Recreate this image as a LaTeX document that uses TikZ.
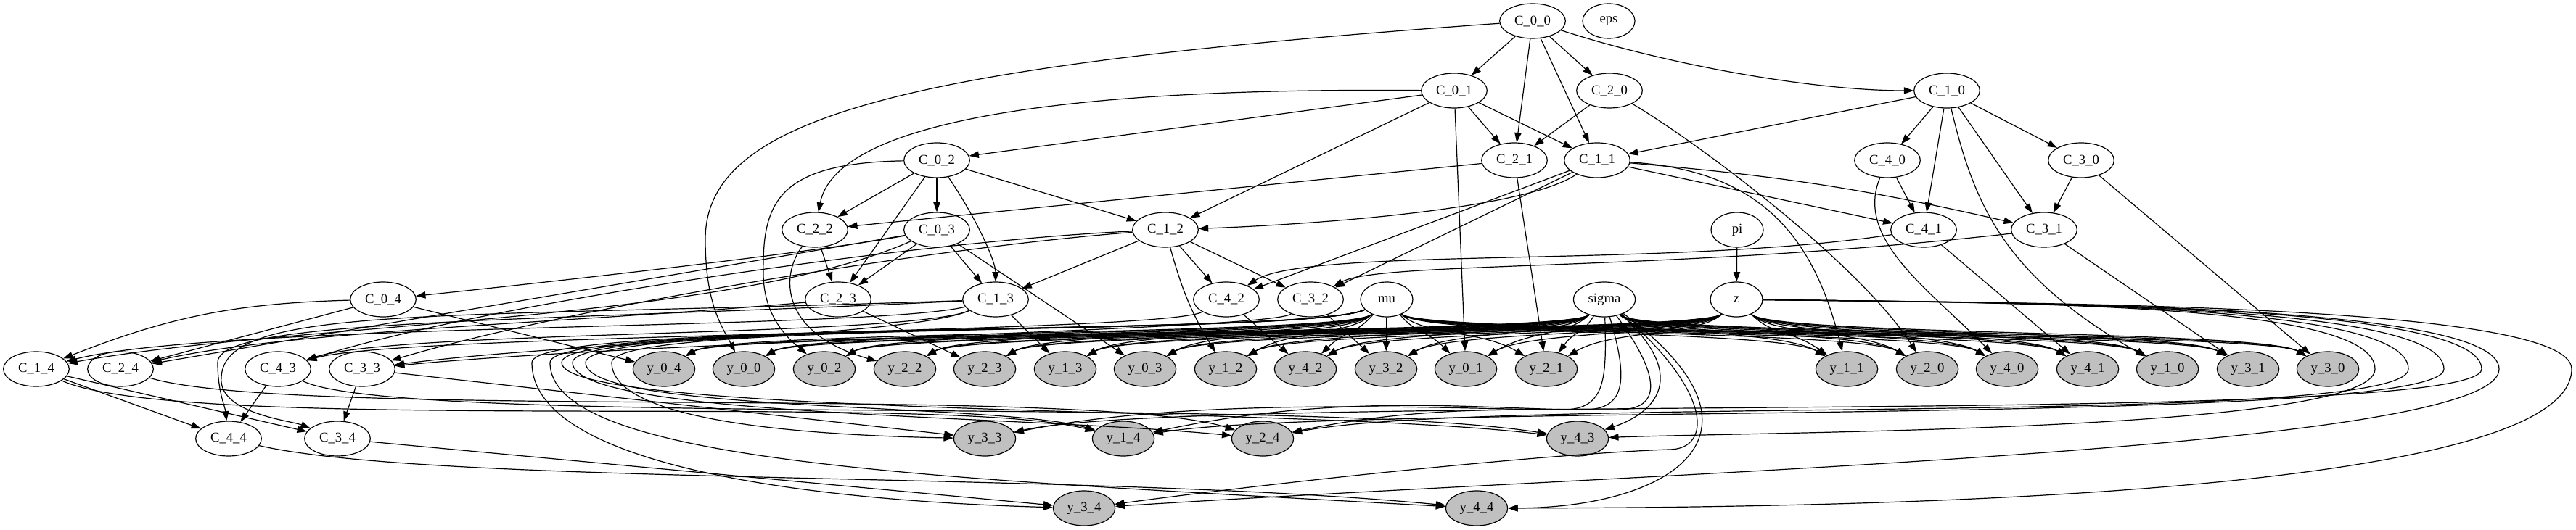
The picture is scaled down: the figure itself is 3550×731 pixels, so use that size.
\documentclass[tikz,border=0pt]{standalone}
\usepackage{fontspec}
\setmainfont{Liberation Serif}
\usetikzlibrary{arrows.meta,shapes.geometric}
\definecolor{obsgrey}{RGB}{192,192,192}

\begin{document}
\begin{tikzpicture}[x=0.75pt,y=-0.75pt]

\tikzstyle{every node}=[font=\fontsize{14}{17}\selectfont]
\tikzstyle{latent}=[draw,ellipse,line width=0.9pt,minimum width=54pt,minimum height=36pt,inner sep=0pt]
\tikzstyle{cnode}=[latent,minimum width=68pt]
\tikzstyle{observed}=[latent,fill=obsgrey,minimum width=64pt]
\tikzstyle{link}=[->,>={Triangle[length=10pt,width=7pt]},line width=0.9pt]

\useasboundingbox (0,0) rectangle (3550,731);

\pgfmathsetmacro\y{29}
\node[cnode] (C_0_0) at (2112,\y) {C\_0\_0};
\node[latent] (eps) at (2217,\y) {eps};

\pgfmathsetmacro\y{\y+96}
\node[cnode] (C_0_1) at (2004,\y) {C\_0\_1};
\node[cnode] (C_2_0) at (2218,\y) {C\_2\_0};
\node[cnode] (C_1_0) at (2683,\y) {C\_1\_0};

\pgfmathsetmacro\y{\y+96}
\node[cnode] (C_0_2) at (1291,\y) {C\_0\_2};
\node[cnode] (C_2_1) at (2087,\y) {C\_2\_1};
\node[cnode] (C_1_1) at (2201,\y) {C\_1\_1};
\node[cnode] (C_4_0) at (2601,\y) {C\_4\_0};
\node[cnode] (C_3_0) at (2868,\y) {C\_3\_0};

\pgfmathsetmacro\y{\y+96}
\node[cnode] (C_2_2) at (1123,\y) {C\_2\_2};
\node[cnode] (C_0_3) at (1291,\y) {C\_0\_3};
\node[cnode] (C_1_2) at (1606,\y) {C\_1\_2};
\node[latent] (pi) at (2394,\y) {pi};
\node[cnode] (C_4_1) at (2651,\y) {C\_4\_1};
\node[cnode] (C_3_1) at (2817,\y) {C\_3\_1};

\pgfmathsetmacro\y{\y+96}
\node[cnode] (C_0_4) at (528,\y) {C\_0\_4};
\node[cnode] (C_2_3) at (1155,\y) {C\_2\_3};
\node[cnode] (C_1_3) at (1372,\y) {C\_1\_3};
\node[cnode] (C_4_2) at (1690,\y) {C\_4\_2};
\node[cnode] (C_3_2) at (1806,\y) {C\_3\_2};
\node[latent] (mu) at (1911,\y) {mu};
\node[latent,minimum width=64pt] (sigma) at (2211,\y) {sigma};
\node[latent] (z) at (2393,\y) {z};

\pgfmathsetmacro\y{\y+96}
\node[cnode] (C_1_4) at (50,\y) {C\_1\_4};
\node[cnode] (C_2_4) at (166,\y) {C\_2\_4};
\node[cnode] (C_4_3) at (383,\y) {C\_4\_3};
\node[cnode] (C_3_3) at (499,\y) {C\_3\_3};
\def\toprow{0/4/915,0/0/1025,0/2/1136,2/2/1247,2/3/1357,1/3/1468,0/3/1578,1/2/1689,4/2/1799,3/2/1910,0/1/2020,2/1/2131,1/1/2545,2/0/2656,4/0/2766,4/1/2877,1/0/2987,3/1/3098,3/0/3208}
\foreach \i/\j/\xx in \toprow
  \node[observed] (y_\i_\j) at (\xx,\y) {y\_\i\_\j};

\pgfmathsetmacro\y{\y+96}
\node[cnode] (C_4_4) at (315,\y) {C\_4\_4};
\node[cnode] (C_3_4) at (465,\y) {C\_3\_4};
\node[observed] (y_3_3) at (1357,\y) {y\_3\_3};
\node[observed] (y_1_4) at (1548,\y) {y\_1\_4};
\node[observed] (y_2_4) at (1740,\y) {y\_2\_4};
\node[observed] (y_4_3) at (2174,\y) {y\_4\_3};

\pgfmathsetmacro\y{\y+96}
\node[observed] (y_3_4) at (1494,\y) {y\_3\_4};
\node[observed] (y_4_4) at (2035,\y) {y\_4\_4};

% straight links
\foreach \src/\dst in {C_0_0/C_0_1,C_0_1/C_0_2,C_0_2/C_0_3,C_1_0/C_1_1,C_1_2/C_1_3,C_2_0/C_2_1,C_2_1/C_2_2,C_2_2/C_2_3,
  C_3_0/C_3_1,C_3_3/C_3_4,C_4_0/C_4_1,C_4_3/C_4_4,
  C_0_0/C_2_0,C_0_1/C_1_1,C_0_1/C_2_1,C_0_2/C_1_2,C_0_2/C_2_2,C_0_3/C_1_3,C_0_3/C_2_3,C_0_4/C_2_4,
  C_1_0/C_3_0,C_1_0/C_4_0,C_1_1/C_4_1,C_1_2/C_3_2,C_1_2/C_4_2,C_1_4/C_3_4,C_1_4/C_4_4,
  C_0_0/C_1_1,C_0_0/C_2_1,C_0_1/C_1_2,C_0_2/C_2_3,C_0_3/C_2_4,C_1_0/C_3_1,C_1_0/C_4_1,C_1_1/C_3_2,C_1_1/C_4_2,
  C_0_1/y_0_1,C_0_3/y_0_3,C_0_4/y_0_4,C_1_3/y_1_3,C_2_1/y_2_1,C_2_3/y_2_3,C_3_0/y_3_0,C_3_1/y_3_1,
  C_3_2/y_3_2,C_3_3/y_3_3,C_3_4/y_3_4,C_4_1/y_4_1,C_4_2/y_4_2,pi/z}
  \draw[link] (\src) -- (\dst);

\draw[link] (C_0_4) to[bend right=10] (C_1_4);
\draw[link] (C_1_1) to[bend left=4] (C_3_1);
\draw[link] (C_1_2) to[bend right=8] (y_1_2);

% curved links between the C nodes
\draw[link] (C_0_0) .. controls (2300,90) and (2500,125) .. (C_1_0);
\draw[link] (C_0_1) .. controls (1400,120) and (1150,180) .. (C_2_2);
\draw[link] (C_0_2) .. controls (1345,300) and (1372,360) .. (C_1_3);
\draw[link] (C_0_3) .. controls (1100,352) and (700,395) .. (C_0_4);
\draw[link] (C_0_3) .. controls (1000,445) and (400,445) .. (C_1_4);
\draw[link] (C_1_1) .. controls (2100,290) and (1800,310) .. (C_1_2);
\draw[link] (C_1_2) .. controls (1300,340) and (800,420) .. (C_3_3);
\draw[link] (C_1_2) .. controls (1300,330) and (700,410) .. (C_4_3);
\draw[link] (C_1_3) .. controls (1200,455) and (300,445) .. (C_1_4);
\draw[link] (C_1_3) .. controls (1250,465) and (800,470) .. (C_3_3);
\draw[link] (C_1_3) .. controls (1250,465) and (550,455) .. (C_4_3);
\draw[link] (C_1_3) .. controls (700,445) and (300,440) .. (300,500) .. controls (300,540) and (310,560) .. (C_4_4);
\draw[link] (C_1_3) .. controls (600,440) and (310,420) .. (305,520) .. controls (300,570) and (400,580) .. (C_3_4);
\draw[link] (C_2_3) .. controls (800,445) and (400,455) .. (C_2_4);
\draw[link] (C_3_1) .. controls (2300,375) and (1900,360) .. (C_3_2);
\draw[link] (C_3_2) .. controls (1750,455) and (900,470) .. (C_3_3);
\draw[link] (C_4_1) .. controls (2300,370) and (1800,340) .. (C_4_2);
\draw[link] (C_4_2) .. controls (1600,460) and (550,460) .. (C_4_3);

% curved links from C to y
\draw[link] (C_0_0) .. controls (1250,90) and (972,160) .. (972,330) .. controls (972,420) and (995,450) .. (y_0_0);
\draw[link] (C_0_2) .. controls (1070,225) and (1050,280) .. (1052,380) .. controls (1053,440) and (1090,470) .. (y_0_2);
\draw[link] (C_2_2) .. controls (1075,380) and (1075,460) .. (y_2_2);
\draw[link] (C_1_0) .. controls (2720,280) and (2760,380) .. (y_1_0);
\draw[link] (C_1_1) .. controls (2430,235) and (2500,330) .. (y_1_1);
\draw[link] (C_2_0) .. controls (2330,190) and (2560,360) .. (y_2_0);
\draw[link] (C_4_0) .. controls (2555,330) and (2660,400) .. (y_4_0);
\draw[link] (C_1_4) .. controls (250,600) and (1300,540) .. (y_1_4);
\draw[link] (C_2_4) .. controls (400,580) and (1500,530) .. (y_2_4);
\draw[link] (C_4_3) .. controls (550,590) and (1800,545) .. (y_4_3);
\draw[link] (C_4_4) .. controls (600,670) and (1500,650) .. (y_4_4);

% mu, sigma, z to the y nodes of rank 5
\foreach \src/\sx in {mu/1911,sigma/2211,z/2393}
  \foreach \i/\j/\xx in \toprow {
    \pgfmathsetmacro\dx{\xx-\sx}
    \pgfmathsetmacro\ax{\sx+sign(\dx)*min(50,0.4*abs(\dx))}
    \pgfmathsetmacro\bx{\xx-sign(\dx)*min(90,0.5*abs(\dx))}
    \draw[link] (\src) .. controls (\ax,463) and (\bx,455) .. (y_\i_\j);
  }

% mu goes round the left side
\foreach \i/\j/\lx/\cy/\ex/\ey in {3/3/843/580/1100/600,1/4/807/570/1380/555,2/4/789/575/1400/572,
  4/3/774/575/1800/560,4/4/758/640/1300/660,3/4/733/640/1100/690}
  \draw[link] (mu) .. controls (1800,465) and (\lx,440) .. (\lx,500) .. controls (\lx,\cy) and (\ex,\ey) .. (y_\i_\j);

% sigma straight down
\foreach \i/\j/\ax/\bx/\by in {3/3/2214/1650/545,1/4/2243/1850/540,2/4/2290/1950/560}
  \draw[link] (sigma) .. controls (\ax,520) and (\ax,565) .. (\ax-60,565) .. controls (\ax-200,565) and (\bx,\by) .. (y_\i_\j);
\draw[link] (sigma) .. controls (2330,520) and (2280,570) .. (y_4_3);
\draw[link] (sigma) .. controls (2360,540) and (2360,620) .. (2300,620) .. controls (2150,625) and (1800,660) .. (y_3_4);
\draw[link] (sigma) .. controls (2462,600) and (2300,700) .. (y_4_4);

% z goes round the right side
\foreach \i/\j/\rx/\cy/\ex/\ey in {4/3/3273/595/2450/595,2/4/3319/590/2050/545,1/4/3368/590/1850/555,
  3/3/3420/590/1650/540,3/4/3444/620/2300/650,4/4/3544/690/2500/700}
  \draw[link] (z) .. controls (2800,418) and (\rx,418) .. (\rx,509) .. controls (\rx,\cy) and (\ex,\ey) .. (y_\i_\j);

\end{tikzpicture}
\end{document}
